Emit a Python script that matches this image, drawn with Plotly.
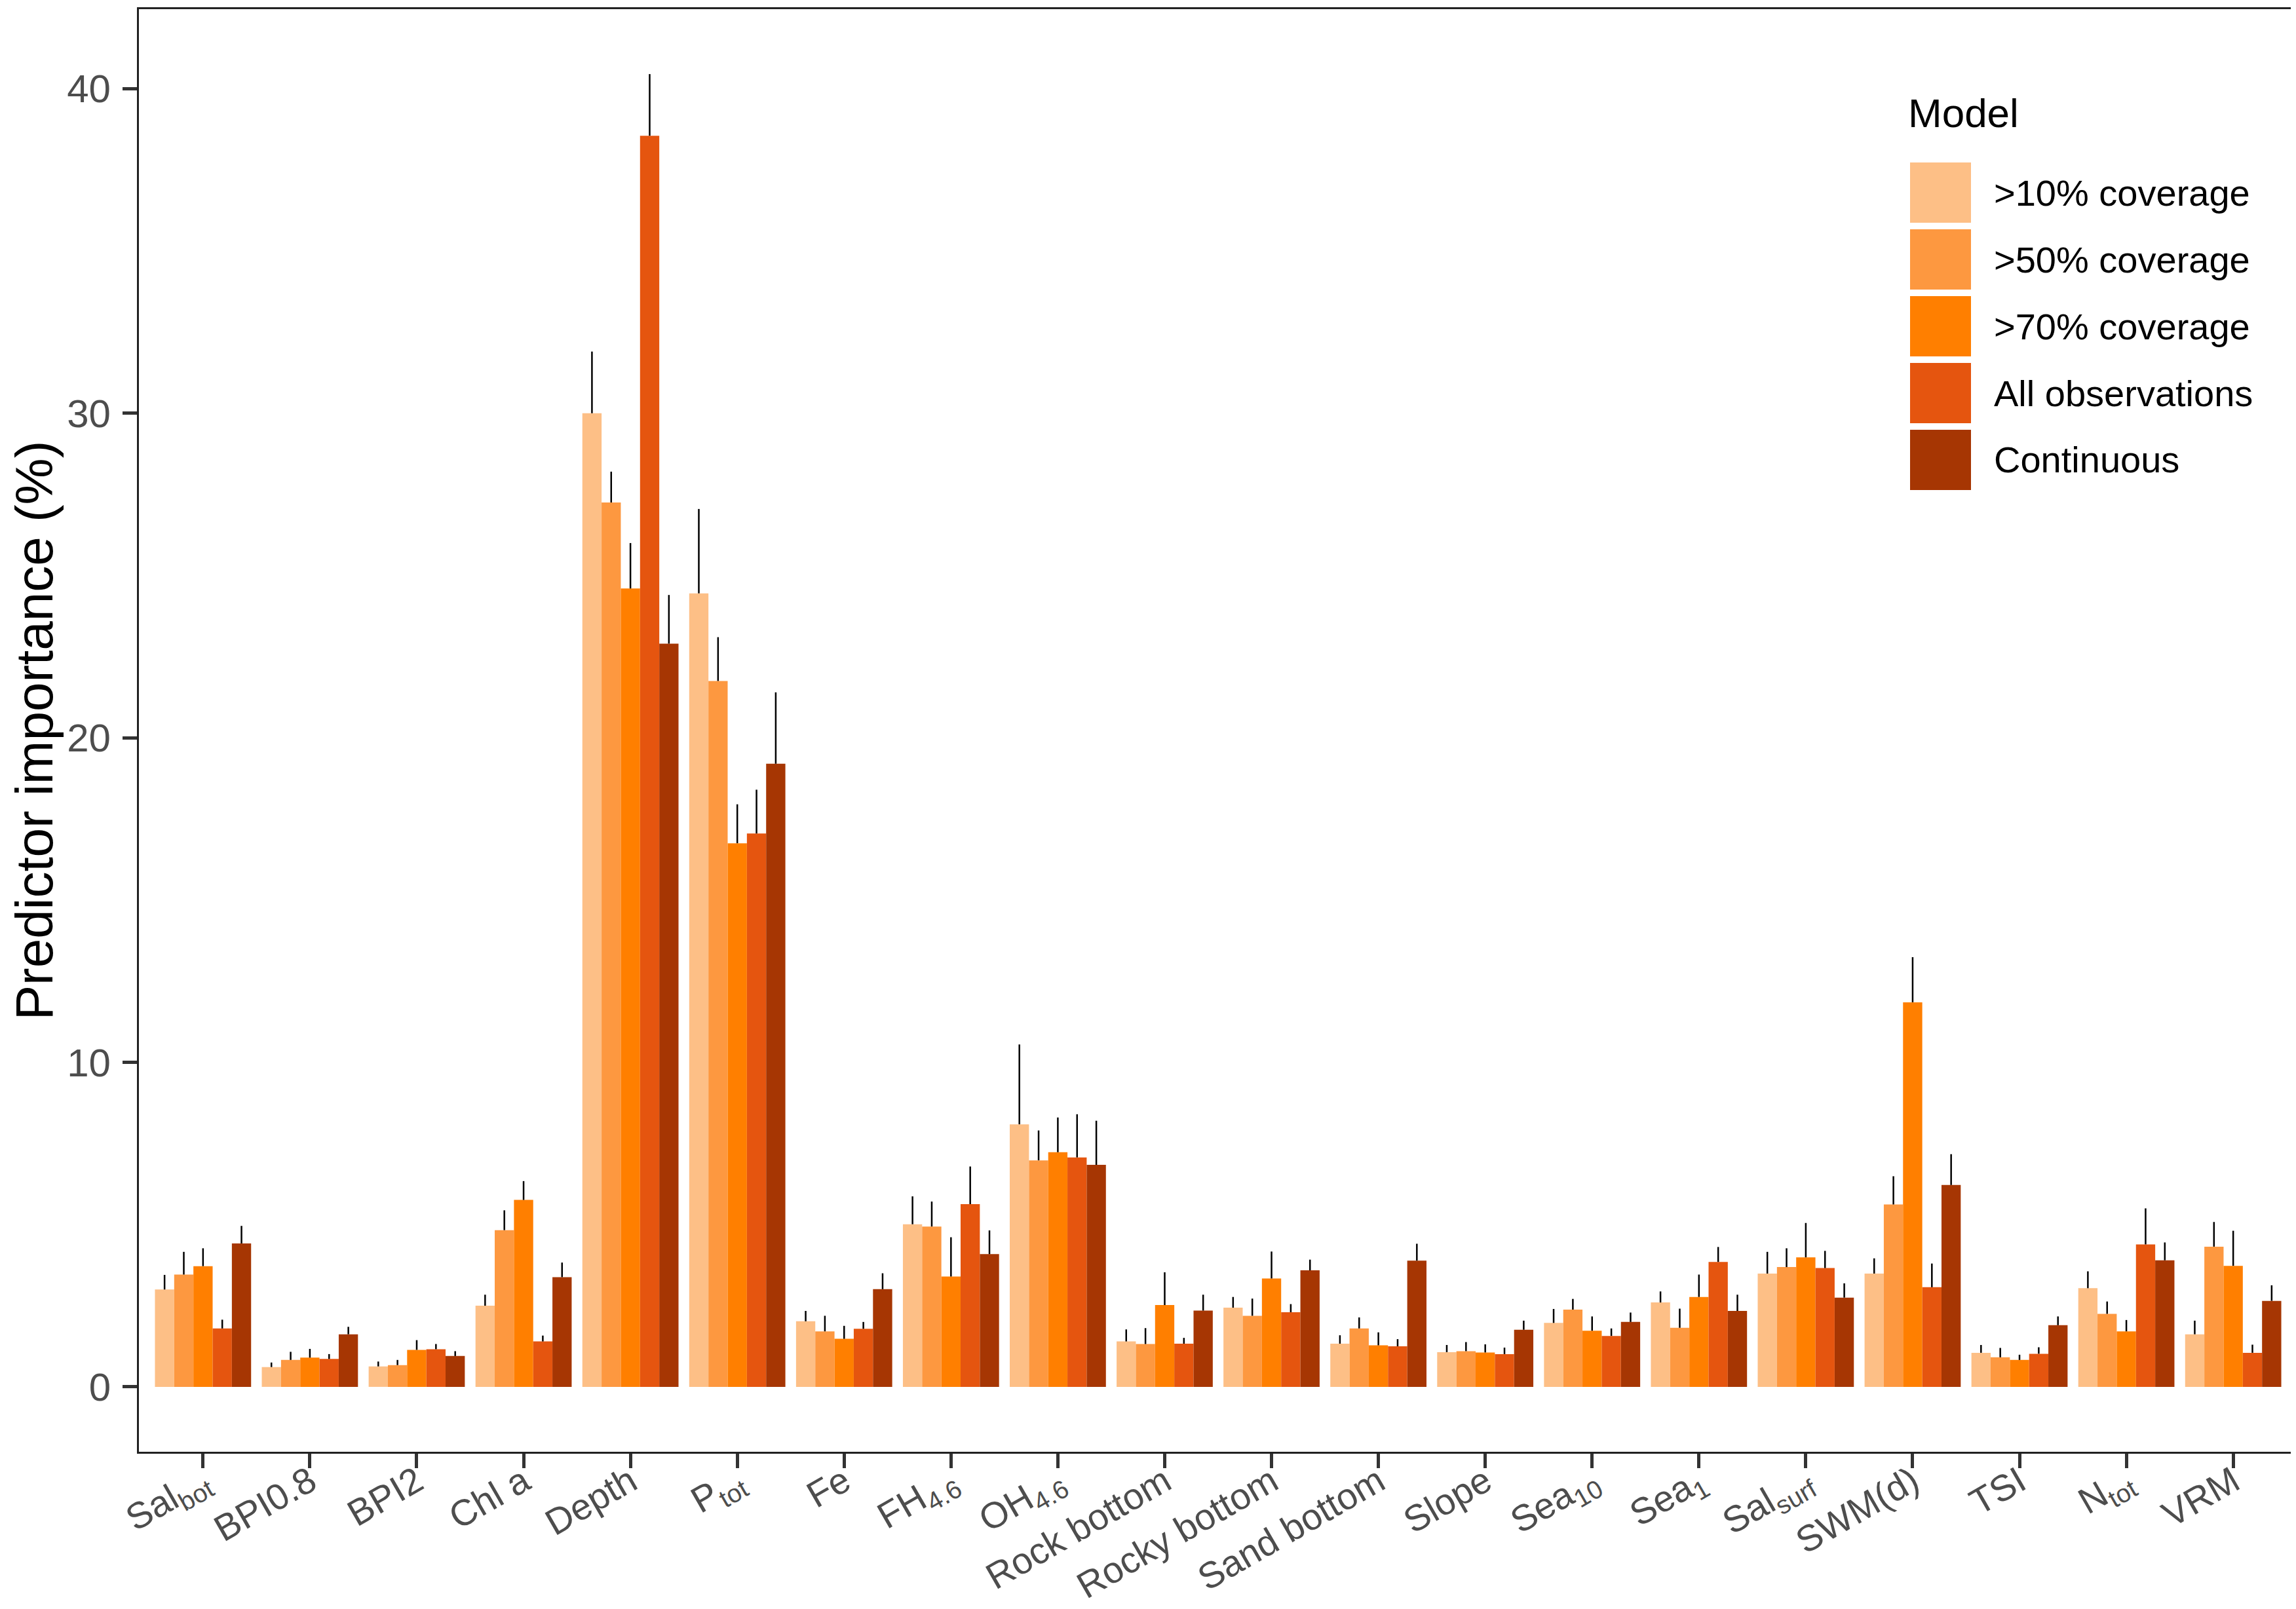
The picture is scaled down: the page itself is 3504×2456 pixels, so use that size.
import plotly.graph_objects as go

# predictors on the x axis (html sub for subscripts)
predictors = [
    "Sal<sub>bot</sub>", "BPI0.8", "BPI2", "Chl a", "Depth", "P<sub>tot</sub>", "Fe",
    "FH<sub>4.6</sub>", "OH<sub>4.6</sub>", "Rock bottom", "Rocky bottom", "Sand bottom",
    "Slope", "Sea<sub>10</sub>", "Sea<sub>1</sub>", "Sal<sub>surf</sub>", "SWM(d)", "TSI",
    "N<sub>tot</sub>", "VRM",
]

models = [">10% coverage", ">50% coverage", ">70% coverage", "All observations", "Continuous"]
colors = ["#FDBF86", "#FD9840", "#FF7F00", "#E5550F", "#A63603"]

# mean importance (%) per model
imp_10 = [3.00, 0.61, 0.63, 2.50, 30.0, 24.45, 2.02, 5.01, 8.09, 1.40, 2.44, 1.33, 1.07, 1.97, 2.60, 3.49, 3.49, 1.05, 3.04, 1.62]
imp_50 = [3.46, 0.83, 0.67, 4.83, 27.25, 21.75, 1.71, 4.94, 6.98, 1.32, 2.19, 1.80, 1.10, 2.38, 1.82, 3.69, 5.62, 0.91, 2.25, 4.32]
imp_70 = [3.72, 0.90, 1.14, 5.76, 24.6, 16.75, 1.48, 3.40, 7.23, 2.52, 3.34, 1.28, 1.06, 1.73, 2.77, 3.99, 11.85, 0.83, 1.71, 3.73]
imp_all = [1.80, 0.86, 1.16, 1.40, 38.55, 17.05, 1.79, 5.63, 7.07, 1.33, 2.30, 1.25, 1.01, 1.57, 3.85, 3.66, 3.07, 1.02, 4.39, 1.05]
imp_cont = [4.42, 1.62, 0.95, 3.38, 22.9, 19.2, 3.01, 4.09, 6.84, 2.35, 3.59, 3.89, 1.76, 2.00, 2.34, 2.75, 6.22, 1.90, 3.90, 2.65]

# top of the error bar (upper limit) per model
upr_10 = [3.45, 0.75, 0.78, 2.84, 31.9, 27.05, 2.34, 5.87, 10.55, 1.77, 2.77, 1.59, 1.29, 2.40, 2.94, 4.16, 3.96, 1.29, 3.56, 2.04]
upr_50 = [4.16, 1.08, 0.83, 5.44, 28.2, 23.1, 2.19, 5.71, 7.90, 1.81, 2.72, 2.14, 1.38, 2.71, 2.41, 4.27, 6.49, 1.20, 2.63, 5.08]
upr_70 = [4.27, 1.17, 1.44, 6.34, 26.0, 17.95, 1.88, 4.61, 8.30, 3.53, 4.17, 1.68, 1.31, 2.17, 3.46, 5.05, 13.24, 0.99, 2.06, 4.81]
upr_all = [2.07, 1.01, 1.32, 1.58, 40.45, 18.4, 2.00, 6.79, 8.40, 1.51, 2.55, 1.47, 1.21, 1.80, 4.31, 4.19, 3.80, 1.22, 5.50, 1.30]
upr_cont = [4.96, 1.85, 1.10, 3.83, 24.4, 21.4, 3.50, 4.82, 8.20, 2.84, 3.92, 4.41, 2.04, 2.29, 2.84, 3.19, 7.17, 2.17, 4.45, 3.13]

values = [imp_10, imp_50, imp_70, imp_all, imp_cont]
uppers = [upr_10, upr_50, upr_70, upr_all, upr_cont]

W, H = 3504, 2456
M_L, M_R, M_T, M_B = 204, 6, 6, 248
FONT = "Liberation Sans, Arial, sans-serif"


def to_paper(px, py):
    x = (px - M_L) / (W - M_L - M_R)
    y = 1 - (py - M_T) / (H - M_T - M_B)
    return x, y


fig = go.Figure()
for name, col, vals, ups in zip(models, colors, values, uppers):
    fig.add_trace(go.Bar(
        x=list(range(len(predictors))),
        y=vals,
        name=name,
        marker=dict(color=col, line=dict(width=0)),
        error_y=dict(
            type="data",
            symmetric=False,
            array=[u - v for u, v in zip(ups, vals)],
            arrayminus=[0] * len(vals),
            color="black",
            thickness=2.5,
            width=0,
        ),
        showlegend=False,
    ))

# legend drawn by hand so the keys are as large as in the original
lx0, lx1 = 2907, 3000
ly0, step, key_h = 240, 102, 92
shapes = []
annotations = []
x_t, y_t = to_paper(2902, 164)
annotations.append(dict(
    x=x_t, y=y_t, xref="paper", yref="paper", text="Model", showarrow=False,
    xanchor="left", yanchor="middle", font=dict(family=FONT, size=62, color="black"),
))
for i, (name, col) in enumerate(zip(models, colors)):
    xa, ya = to_paper(lx0, ly0 + i * step)
    xb, yb = to_paper(lx1, ly0 + i * step + key_h)
    shapes.append(dict(type="rect", xref="paper", yref="paper", x0=xa, x1=xb, y0=yb, y1=ya,
                       fillcolor=col, line=dict(width=0), layer="above"))
    xt, yt = to_paper(3033, ly0 + i * step + key_h / 2)
    annotations.append(dict(
        x=xt, y=yt, xref="paper", yref="paper", text=name, showarrow=False,
        xanchor="left", yanchor="middle", font=dict(family=FONT, size=56, color="black"),
    ))

fig.update_layout(
    width=W,
    height=H,
    barmode="group",
    bargap=0.1,
    bargroupgap=0,
    plot_bgcolor="white",
    paper_bgcolor="white",
    margin=dict(l=M_L, r=M_R, t=M_T, b=M_B),
    font=dict(family=FONT, size=60, color="#4D4D4D"),
    shapes=shapes,
    annotations=annotations,
)

fig.update_xaxes(
    tickmode="array",
    tickvals=list(range(len(predictors))),
    ticktext=predictors,
    tickangle=-30,
    range=[-0.6, len(predictors) - 0.4],
    automargin=False,
    showgrid=False,
    zeroline=False,
    showline=True,
    mirror=True,
    linecolor="#222222",
    linewidth=3,
    ticks="outside",
    ticklen=22,
    tickwidth=5,
    tickcolor="#333333",
    ticklabelstandoff=-34,
    tickfont=dict(size=56, color="#4D4D4D"),
)
fig.update_yaxes(
    title=dict(text="Predictor importance (%)", font=dict(size=80, color="black"), standoff=36),
    range=[-2.0, 42.45],
    tickvals=[0, 10, 20, 30, 40],
    automargin=False,
    showgrid=False,
    zeroline=False,
    showline=True,
    mirror=True,
    linecolor="#222222",
    linewidth=3,
    ticks="outside",
    ticklen=22,
    tickwidth=5,
    tickcolor="#333333",
    ticklabelstandoff=6,
    tickfont=dict(size=60, color="#4D4D4D"),
)

fig.write_html("out.html")
